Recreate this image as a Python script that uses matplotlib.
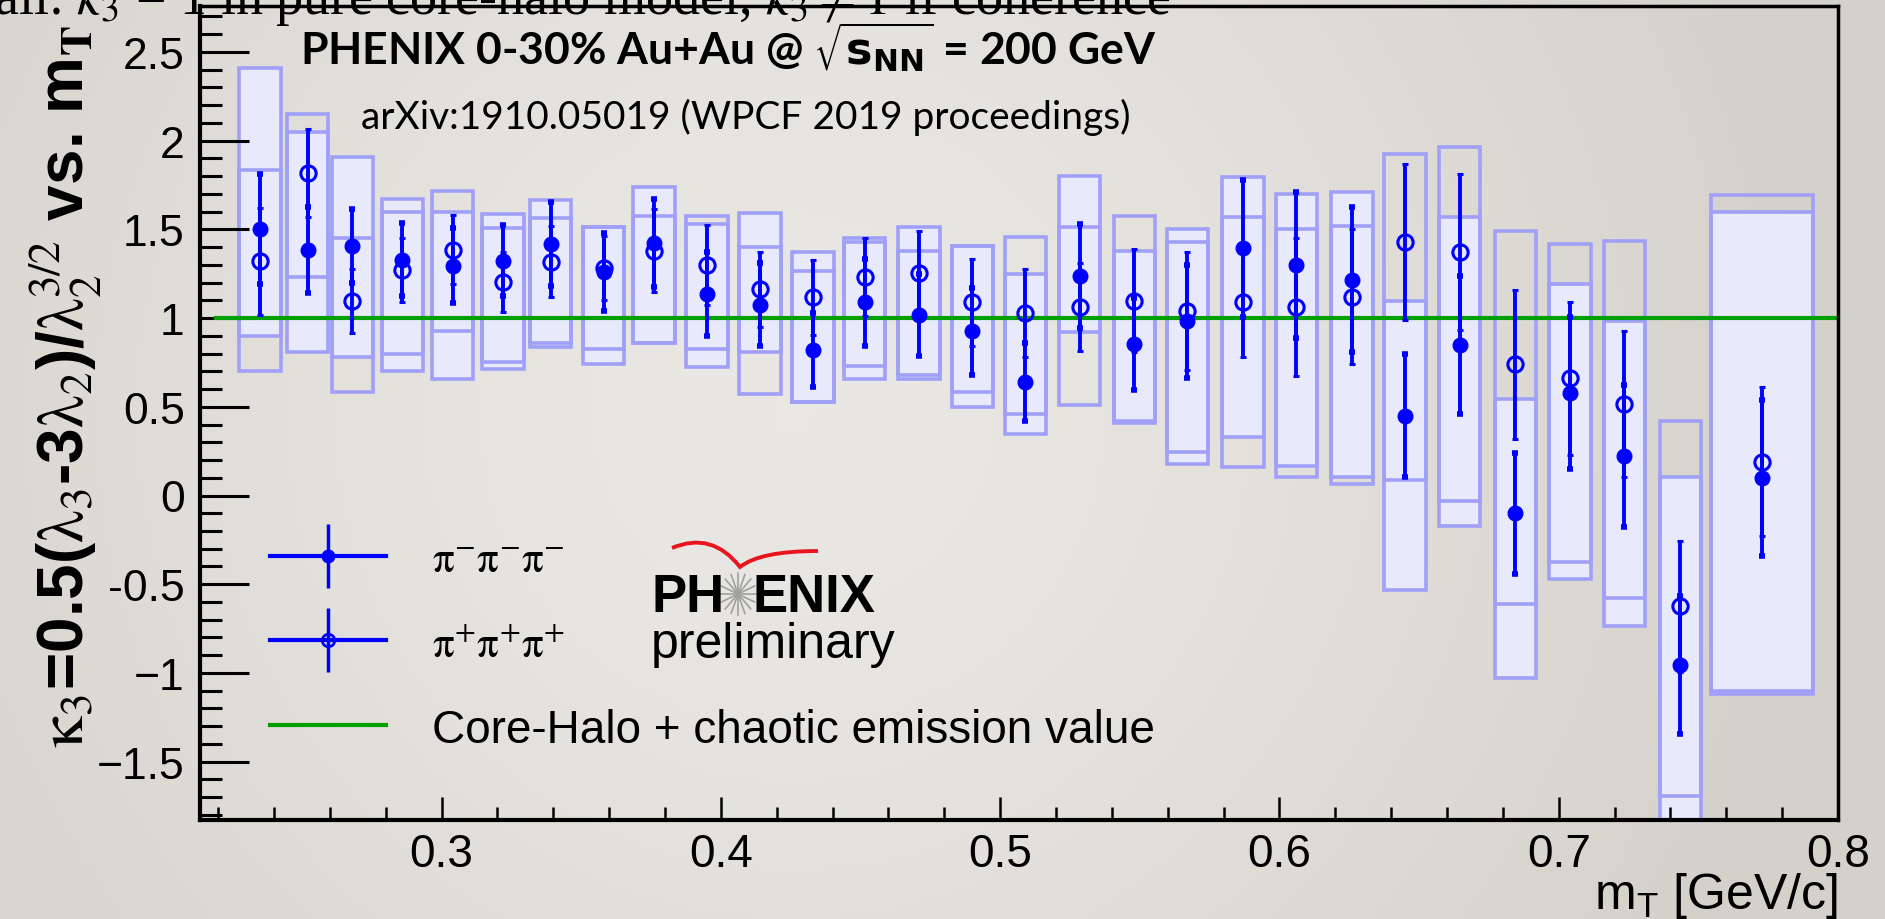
import numpy as np
import matplotlib
matplotlib.use('Agg')
import matplotlib.pyplot as plt
from matplotlib.container import ErrorbarContainer
from matplotlib.legend_handler import HandlerErrorbar
from matplotlib.lines import Line2D
from matplotlib.path import Path
from matplotlib.patches import PathPatch
from matplotlib.ticker import MultipleLocator, FixedLocator, FixedFormatter

# m_T bin centres [GeV/c]
mt = [0.235, 0.252, 0.268, 0.286, 0.304, 0.322, 0.339, 0.358, 0.376, 0.395,
      0.414, 0.433, 0.4515, 0.471, 0.490, 0.509, 0.5285, 0.548, 0.567, 0.587,
      0.606, 0.626, 0.645, 0.6645, 0.6845, 0.704, 0.7235, 0.7435, 0.7727]
# width of the systematic boxes along m_T (last bin is merged)
box_width = [0.0148] * 28 + [0.0366]

# kappa_3 for pi- pi- pi- (filled) and pi+ pi+ pi+ (open)
pim_val = [1.50, 1.384, 1.405, 1.329, 1.295, 1.324, 1.418, 1.258, 1.423, 1.136,
           1.076, 0.820, 1.089, 1.017, 0.926, 0.642, 1.236, 0.854, 0.982, 1.393,
           1.30, 1.217, 0.45, 0.848, -0.10, 0.578, 0.221, -0.954, 0.10]
pim_err = [0.31, 0.24, 0.21, 0.205, 0.21, 0.20, 0.235, 0.22, 0.25, 0.235,
           0.235, 0.21, 0.245, 0.23, 0.245, 0.22, 0.294, 0.26, 0.32, 0.387,
           0.41, 0.41, 0.345, 0.39, 0.34, 0.43, 0.40, 0.39, 0.44]
pip_val = [1.32, 1.818, 1.098, 1.273, 1.386, 1.202, 1.318, 1.281, 1.380, 1.299,
           1.162, 1.117, 1.234, 1.252, 1.089, 1.029, 1.064, 1.098, 1.038, 1.093,
           1.064, 1.121, 1.427, 1.371, 0.741, 0.661, 0.516, -0.625, 0.19]
pip_err = [0.30, 0.25, 0.18, 0.18, 0.195, 0.17, 0.20, 0.18, 0.235, 0.224,
           0.21, 0.21, 0.22, 0.237, 0.244, 0.25, 0.247, 0.29, 0.333, 0.31,
           0.39, 0.38, 0.44, 0.44, 0.42, 0.43, 0.41, 0.37, 0.42]

# systematic ranges
pim_sys_lo = [0.90, 0.807, 0.779, 0.704, 0.657, 0.713, 0.835, 0.741, 0.86, 0.722,
              0.807, 0.529, 0.657, 0.657, 0.497, 0.347, 0.92, 0.409, 0.178, 0.328,
              0.168, 0.103, -0.531, -0.17, -1.031, -0.471, -0.734, -2.0, -1.119]
pim_sys_hi = [2.41, 2.047, 1.906, 1.671, 1.596, 1.587, 1.666, 1.512, 1.737, 1.530,
              1.591, 1.374, 1.45, 1.512, 1.408, 1.249, 1.803, 1.38, 1.502, 1.794,
              1.70, 1.713, 1.098, 1.568, 0.544, 1.192, 0.985, 0.103, 1.596]
pip_sys_lo = [0.704, 1.23, 0.582, 0.798, 0.93, 0.751, 0.86, 0.826, 0.86, 0.826,
              0.572, 0.529, 0.728, 0.68, 0.582, 0.459, 0.51, 0.42, 0.243, 0.159,
              0.103, 0.065, 0.089, -0.029, -0.612, -0.377, -0.578, -1.692, -1.10]
pip_sys_hi = [1.835, 2.15, 1.452, 1.596, 1.718, 1.506, 1.562, 1.512, 1.577, 1.577,
              1.403, 1.264, 1.427, 1.38, 1.408, 1.455, 1.512, 1.577, 1.427, 1.568,
              1.502, 1.521, 1.925, 1.963, 1.493, 1.418, 1.436, 0.422, 1.694]

core_halo_value = 1.0

y_ticks = [-1.5, -1.0, -0.5, 0.0, 0.5, 1.0, 1.5, 2.0, 2.5]
y_tick_labels = ['\u22121.5', '\u22121', '-0.5', '0', '0.5', '1', '1.5', '2', '2.5']
x_ticks = [0.3, 0.4, 0.5, 0.6, 0.7, 0.8]
x_tick_labels = ['0.3', '0.4', '0.5', '0.6', '0.7', '0.8']

W, H = 1885, 920
fig = plt.figure(figsize=(W / 100, H / 100), dpi=100)

# slide background (soft radial gradient)
bg = fig.add_axes([0, 0, 1, 1], zorder=-10)
yy, xx = np.mgrid[0:1:200j, 0:1:400j]
r = np.clip(np.hypot((xx - 0.42) * 2.05, (yy - 0.45) * 1.0) / 1.1, 0, 1)
c_in = np.array([0.918, 0.910, 0.894])
c_out = np.array([0.835, 0.820, 0.796])
bg.imshow(c_in + (c_out - c_in) * r[..., None] ** 1.5, aspect='auto', extent=[0, 1, 0, 1])
bg.axis('off')

ax = fig.add_axes([200 / W, 1 - 821 / H, 1638 / W, 814 / H])
ax.patch.set_alpha(0)

# systematic boxes
ax.bar(mt, np.subtract(pim_sys_hi, pim_sys_lo), bottom=pim_sys_lo, width=box_width,
       color='#e9e9fc', edgecolor='#a0a0f8', linewidth=2.6, zorder=1)
ax.bar(mt, np.subtract(pip_sys_hi, pip_sys_lo), bottom=pip_sys_lo, width=box_width,
       color='none', edgecolor='#a0a0f8', linewidth=2.6, zorder=1)

ax.axhline(core_halo_value, xmin=0.01, color='#00a000', linewidth=3, zorder=2)

ax.errorbar(mt, pim_val, yerr=pim_err, fmt='o', color='#0000ff', ms=10.5,
            elinewidth=2.8, capsize=2.2, capthick=4, zorder=3)
ax.errorbar(mt, pip_val, yerr=pip_err, fmt='o', color='#0000ff', mfc='none', mew=2.2,
            ms=11, elinewidth=2.8, capsize=2.2, capthick=4, zorder=3)

ax.set_xlim(0.2135, 0.8)
ax.set_ylim(-1.829, 2.759)

for s in ax.spines.values():
    s.set_linewidth(2.5)
ax.spines['left'].set_linewidth(3)
ax.spines['bottom'].set_linewidth(3)

ax.yaxis.set_major_locator(FixedLocator(y_ticks))
ax.yaxis.set_major_formatter(FixedFormatter(y_tick_labels))
ax.yaxis.set_minor_locator(MultipleLocator(0.1))
ax.xaxis.set_major_locator(FixedLocator(x_ticks))
ax.xaxis.set_major_formatter(FixedFormatter(x_tick_labels))
ax.xaxis.set_minor_locator(MultipleLocator(0.02))
ax.tick_params(axis='y', which='major', direction='in', length=35, width=2.2, pad=11,
               labelsize=32, right=False)
ax.tick_params(axis='y', which='minor', direction='in', length=16, width=2.2, right=False)
ax.tick_params(axis='x', which='major', direction='in', length=16.5, width=1.8, pad=9,
               labelsize=33, top=False)
ax.tick_params(axis='x', which='minor', direction='in', length=9.5, width=1.8, top=False)
for lab in ax.get_xticklabels() + ax.get_yticklabels():
    lab.set_fontfamily(['Liberation Sans', 'DejaVu Sans'])

ax.set_xlabel('m$_\\mathregular{T}$ [GeV/c]', fontsize=36, family='Liberation Sans')
ax.xaxis.set_label_coords(1.0, -0.062)
ax.xaxis.label.set_ha('right')
ax.xaxis.label.set_va('top')

# legend
h_pim = ax.errorbar([np.nan], [np.nan], yerr=[np.nan], fmt='-o', color='#0000ff', ms=9,
                    lw=3, elinewidth=2.5, capsize=0)
h_pip = ax.errorbar([np.nan], [np.nan], yerr=[np.nan], fmt='-o', color='#0000ff', ms=9,
                    mfc='none', mew=2, lw=3, elinewidth=2.5, capsize=0)
h_ch = Line2D([], [], color='#00a000', lw=3)
leg = ax.legend([h_pim, h_pip, h_ch],
                [r'$\mathrm{\pi^{-}\pi^{-}\pi^{-}}$', r'$\mathrm{\pi^{+}\pi^{+}\pi^{+}}$',
                 'Core-Halo + chaotic emission value'],
                handler_map={ErrorbarContainer: HandlerErrorbar(yerr_size=0.7)},
                loc='upper left', bbox_to_anchor=(0.0427, 0.345), frameon=False,
                fontsize=33, borderpad=0, borderaxespad=0, handlelength=2.54,
                handletextpad=1.0, labelspacing=0.92)
for t in leg.get_texts()[:2]:
    t.set_math_fontfamily('stix')
    t.set_fontsize(31)
leg.get_texts()[2].set_fontfamily('Liberation Sans')

# y axis title
fig.text(66 / W, 1 - 748 / H,
         r'$\mathrm{\kappa_3}$=0.5($\mathrm{\lambda_3}$-3$\mathrm{\lambda_2}$)/'
         r'$\mathrm{\lambda_2^{3/2}}$ vs. m$_\mathbf{T}$',
         rotation=90, ha='center', va='bottom', fontsize=46, fontweight='bold',
         family='Liberation Sans', math_fontfamily='stix')

# header texts
fig.text(-0.003, 1 - 14 / H,
         r'all: $\kappa_3$ = 1 in pure core-halo model, $\kappa_3 \neq 1$ if coherence',
         ha='left', va='baseline', fontsize=39, family='Liberation Serif',
         math_fontfamily='stix')
fig.text(300 / W, 1 - 48 / H,
         r'PHENIX 0-30% Au+Au @ $\sqrt{\mathbf{s}_{\mathbf{NN}}}$ = 200 GeV',
         ha='left', va='center', fontsize=32, fontweight='bold', family='Lato',
         math_fontfamily='dejavusans')
fig.text(361 / W, 1 - 117 / H, 'arXiv:1910.05019 (WPCF 2019 proceedings)',
         ha='left', va='center', fontsize=28, family='Lato')

# PHENIX preliminary logo
fig.text(725 / W, 1 - 612 / H, 'PH', ha='right', va='baseline', fontsize=38,
         fontweight='bold', family='Liberation Sans')
fig.text(752 / W, 1 - 612 / H, 'ENIX', ha='left', va='baseline', fontsize=38,
         fontweight='bold', family='Liberation Sans')
fig.text(773 / W, 1 - 658 / H, 'preliminary', ha='center', va='baseline', fontsize=36,
         family='Liberation Sans')
cx, cy = 738, 595
for a in np.linspace(0, np.pi, 8, endpoint=False):
    dx, dy = 18 * np.cos(a), 21 * np.sin(a)
    fig.add_artist(Line2D([(cx - dx) / W, (cx + dx) / W], [1 - (cy - dy) / H, 1 - (cy + dy) / H],
                          transform=fig.transFigure, color='#a0a0a0', lw=1.2))
arc = Path([(672 / W, 1 - 549 / H), (712 / W, 1 - 532 / H), (740 / W, 1 - 568 / H),
            (760 / W, 1 - 552 / H), (818 / W, 1 - 552 / H)],
           [Path.MOVETO, Path.CURVE3, Path.CURVE3, Path.CURVE3, Path.CURVE3])
fig.add_artist(PathPatch(arc, transform=fig.transFigure, fill=False,
                         edgecolor='#e8141e', lw=2.8))

fig.savefig('out.png', dpi=100)
